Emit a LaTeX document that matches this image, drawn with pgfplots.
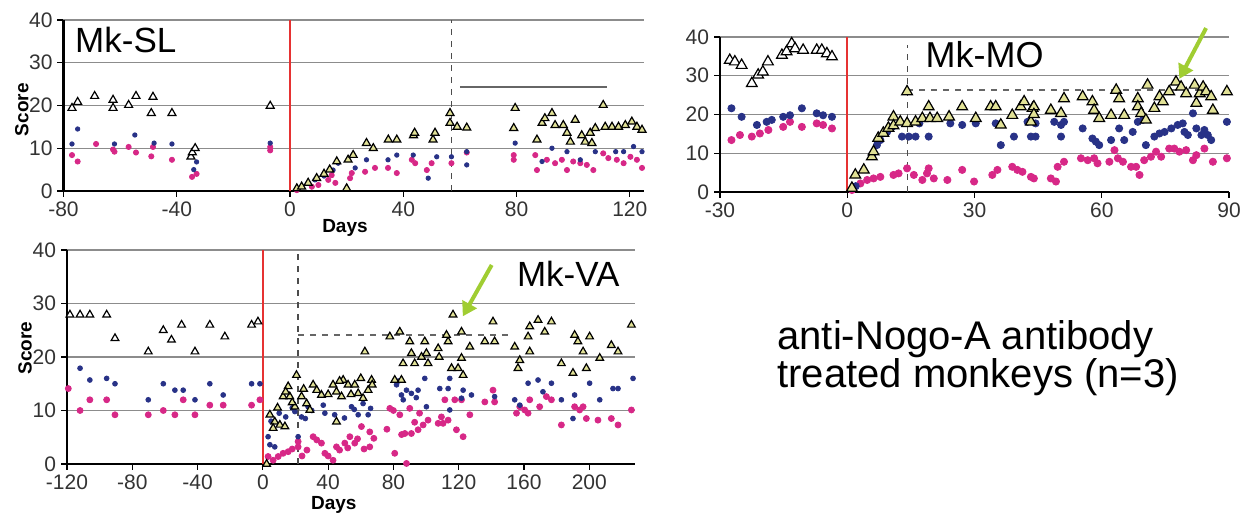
\documentclass[border=0pt]{standalone}
\usepackage{pgfplots}
\pgfplotsset{compat=1.18}
\usepackage{fontspec}
\setmainfont{Liberation Sans}
\usetikzlibrary{arrows.meta}
\definecolor{mblue}{RGB}{40,50,135}
\definecolor{mmag}{RGB}{215,40,135}
\definecolor{tfill}{RGB}{225,225,150}
\definecolor{agreen}{RGB}{160,205,50}
\definecolor{mred}{RGB}{230,50,50}
\pgfplotsset{
 panel/.style={scale only axis, axis x line=bottom, axis y line=left,
  axis line style={-, black, line width=1.2pt},
  ymin=0, ymax=40, ytick={0,10,20,30,40}, ymajorgrids,
  grid style={black!45, line width=0.6pt},
  tick style={black, line width=0.6pt}, tick align=outside, major tick length=3pt,
  clip=false,
  /pgf/number format/assume math mode=true,
  ticklabel style={font=\fontsize{10.5}{12}\selectfont, text=black!80},
  xticklabel style={yshift=1pt}, yticklabel style={xshift=1pt}},
 tripre/.style={only marks, mark=triangle*, mark size=#1, mark options={draw=black, fill=white, line width=0.6pt}},
 tripost/.style={only marks, mark=triangle*, mark size=#1, mark options={draw=black, fill=tfill, line width=0.6pt}},
 bl/.style={only marks, mark=*, mark size=#1, mark options={draw=mblue, fill=mblue}},
 mg/.style={only marks, mark=*, mark size=#1, mark options={draw=mmag, fill=mmag}},
}
\begin{document}
\begin{tikzpicture}
\useasboundingbox (0,0) rectangle (627pt,259pt);
% ---------------- Mk-SL
\begin{axis}[panel, at={(31.75pt,163.5pt)}, anchor=south west, width=290.25pt, height=85.5pt,
  xmin=-80, xmax=125, xtick={-80,-40,0,40,80,120}]
\draw[mred, line width=0.9pt] (axis cs:0,0) -- (axis cs:0,40);
\draw[dashed, black!70, line width=0.6pt] (axis cs:57,0) -- (axis cs:57,40);
\draw[black!60, line width=0.8pt] (axis cs:60,24.3) -- (axis cs:112,24.3);
\addplot[mg=1.3pt] coordinates {(-77,8.4)(-75,6.9)(-68.5,11)(-62.5,9.7)(-62,9.2)(-57,10.3)(-54.4,9)(-49,8.1)(-48.4,10.3)(-41.7,7.3)(-34.6,3.3)(-33,4)(-7,9.5)(-7,10.3)
(2.4,0.2)(7.7,1)(10,1.4)(13.5,2.6)(16,1.9)(14.7,3.7)(21.2,3)(21.8,4.2)(26.5,4.5)(30,5.4)(34.6,5.4)(37.7,4.2)(43,7.3)(44.2,6.5)(48.3,4.9)(50,6.5)(57,6.5)(62.4,9)(79,8.4)(79,7.3)(86.6,8.4)(87.2,4.9)(90.7,7.3)(93.6,6.5)(96,7.3)(97.8,4.9)(100,6.9)(102.5,6.5)(104.8,6.1)(107.1,4.9)(110.6,8.8)(112.4,7.7)(115.4,7.3)(117.8,6.5)(120.2,8)(122.5,7.3)(124.3,5.4)};
\addplot[bl=1.1pt] coordinates {(-77,11)(-75,14.5)(-62,11)(-54.8,13.1)(-48,11.2)(-41.7,11)(-33,6.8)(-34,5)(-7,11.2)
(8.8,2.6)(12,3.5)(15.2,4.9)(17,6.5)(23,5.4)(27,7.3)(34.6,7.3)(37.7,8.4)(43.5,8.4)(48.8,3)(51.8,8)(57,8)(62.4,9.2)(62.4,6.1)(79.5,11.2)(89,6.9)(92.5,10)(97.8,9.2)(102.5,7.3)(107.8,9.2)(115,9.2)(117.8,9.2)(121.3,10.4)(124.3,9.2)};
\addplot[tripre=2.3pt] coordinates {(-77,19.4)(-75,20.8)(-69,22.2)(-62.5,21.3)(-62.5,19.4)(-57,20.1)(-54.4,22.2)(-49,18.2)(-48.4,22)(-41.7,18.2)(-35,8)(-34.5,9)(-33.5,10)(-7,19.9)};
\addplot[tripost=2.3pt] coordinates {(2.4,0.6)(4.1,1)(6.4,1.9)(9.4,3)(12,4)(14,5)(16.5,6.9)(20,0.6)(20.5,7.3)(22.3,8.4)(27,11.2)(29.4,10)(34.7,12)(37.7,12)(43.6,13)(44,13.6)(50.5,12)(51.2,13.6)(56.5,18.2)(56.5,15.9)(59,15)(62.4,14.8)(79.5,19.4)(79,14.7)(87.2,12)(89,15.9)(90,17)(92.5,18.2)(93.6,15.4)(96.5,15.4)(97.8,13.6)(100.7,16.6)(99,11.5)(103,13)(104.2,11.5)(106,13.6)(106.6,11.2)(107.8,14.7)(110.6,20.1)(111.3,15)(113.7,15)(116,15)(118.4,15.4)(120.7,16.2)(122.5,15)(124.3,14.3)};
\node[anchor=base west, inner sep=0pt, font=\fontsize{17.5}{19}\selectfont] at (axis cs:-76,32.5) {Mk-SL};
\node[rotate=90, font=\bfseries\fontsize{9.5}{11}\selectfont] at (axis cs:-94.7,19) {Score};
\node[font=\bfseries\fontsize{9.5}{11}\selectfont] at (axis cs:19.4,-8.7) {Days};
\end{axis}
% ---------------- Mk-MO
\begin{axis}[panel, at={(360pt,163pt)}, anchor=south west, width=254.5pt, height=77.5pt,
  xmin=-30, xmax=90, xtick={-30,0,30,60,90}]
\draw[mred, line width=0.9pt] (axis cs:0,0) -- (axis cs:0,40);
\draw[dashed, black!70, line width=0.6pt] (axis cs:14.2,0) -- (axis cs:14.2,38);
\draw[dashed, black!60, line width=0.6pt] (axis cs:14.2,26.3) -- (axis cs:83,26.3);
\addplot[mg=1.8pt] coordinates {(-27.3,13.4)(-25.3,14.7)(-22.5,14.3)(-20.6,15.1)(-18.6,16)(-15.1,16.8)(-13.5,18.1)(-10.7,16.8)(-7.2,17.7)(-5.7,17.3)(-3.6,16.4)
(1.1,0.5)(3.1,2.2)(4.7,3.1)(6.2,3.5)(7.8,3.9)(10.9,4.4)(12.1,4.8)(14.1,6.1)(15.7,4.4)(17.7,3.1)(18.8,4.8)(19.2,6.1)(20.4,3.5)(23.6,3.1)(27.1,5.7)(29.9,2.7)(34.2,4.4)(35.4,5.7)(38.9,6.5)(40.1,5.7)(41.3,5.2)(43.3,3.9)(44,3.5)
(48,3.5)(49.2,2.7)(49.6,6.5)(51.1,7.8)(55.1,8.7)(56.7,8.2)(58.2,8.7)(59,7.4)(61.8,7.8)(63,10.8)(63.8,8.7)(65,7.8)(66.9,6.5)(68.1,6.5)(68.9,4.4)(70,8.2)(71.6,9.1)(72.8,10.4)(74,9.1)(75.9,11.2)(77.1,11.2)(78.3,10.4)(79.9,10.8)(81.5,8.2)(82.3,9.5)(84.2,11.2)(86.2,7.8)(89.5,8.7)};
\addplot[bl=1.8pt] coordinates {(-27.3,21.6)(-24.9,19.4)(-21.3,17.3)(-19,18.1)(-17.8,18.6)(-15.1,19.4)(-13.5,19.8)(-10.7,21.6)(-7.2,20.3)(-5.7,19.8)(-3.6,19.4)
(2,1.5)(5.8,9.5)(7,12.1)(7.8,13.4)(9.4,15.5)(10.6,16.8)(12.9,14.3)(14.5,14.3)(16.1,14.3)(19.2,14.3)(17,17.7)(24.3,17.7)(27.1,17.3)(30.3,17.7)(35,17.7)(36.2,12.1)(39.3,14.3)(43.3,14.3)(42.5,18.1)
(44.4,17.7)(44.4,14.3)(48.8,18.1)(50.4,17.3)(51.1,18.1)(50.4,14.3)(55.5,16.4)(57.8,13.8)(58.6,13)(59.4,12.1)(62.2,13.4)(64.1,16.4)(65.3,13.4)(67.3,15.5)(68.5,18.1)(69.7,18.6)(70.4,12.1)(72.4,14.3)(73.6,15.1)(74.8,15.5)(76.4,16.4)(77.9,17.3)(79.1,17.7)(79.5,15.5)(80.3,14.7)(81.5,20.3)(82.3,16.4)(83.5,14.7)(84.2,16)(85,14.7)(85.8,13.4)(89.5,18.1)};
\addplot[tripre=3.1pt] coordinates {(-27.7,34)(-26.5,33.6)(-24.9,32.7)(-22.5,28)(-21,30.2)(-19.9,31)(-18.7,33.6)(-15.4,35.3)(-14.3,36.2)(-13.1,38.3)(-12.3,37)(-10.4,36.6)(-7.2,36.6)(-6,36.6)(-4.8,35.7)(-3.6,34.9)};
\addplot[tripost=3.1pt] coordinates {(1.1,1)(1.9,4.4)(3.9,5.7)(5.8,9.1)(6.2,10.4)(7.3,13.9)(8.5,15.2)(9.7,16.5)(10.9,19.4)(10.9,17.1)(12.5,18.1)(14.1,25.9)(14.1,17.7)(16.1,18.1)(17.7,19)(19.2,22)(19.5,19)(21.2,19)(24,19.4)(27.1,22)(30.3,19)(33.8,22)(35,22)(36.2,17.3)(38.9,19.8)(40.9,22)(41.7,23.3)(43.7,21.6)(43.3,18.1)
(44,22)(44,20)(48,21.1)(50.4,20.3)(51.1,24.1)(55.5,24.6)(57.8,23.3)(58.2,21.1)(59.4,19)(62.2,19.8)(63.4,26.3)(64.1,24.1)(65.3,19.8)(68.5,24.1)(68.5,22)(69.3,20.3)(70.4,18.6)(70.8,27.6)(72.4,21.6)(73.6,24.6)(74.4,23.3)(75.9,25.9)(77.5,28.4)(78.7,27.1)(79.9,25.4)(81.9,27.6)(83.1,25.4)(83.9,27.1)(84.6,25.9)(85.8,24.6)(82.3,22.9)(86.2,21.1)(89.5,25.9)};
\draw[-{Triangle[width=8pt,length=7pt]}, line width=2pt, agreen] (axis cs:84.6,42.3) -- (axis cs:78.3,29.2);
\node[anchor=base west, inner sep=0pt, font=\fontsize{18}{20}\selectfont] at (axis cs:18.4,32) {Mk-MO};
\end{axis}
% ---------------- Mk-VA
\begin{axis}[panel, at={(33.5pt,27pt)}, anchor=south west, width=284pt, height=107pt,
  xmin=-120, xmax=228, xtick={-120,-80,-40,0,40,80,120,160,200}]
\draw[mred, line width=1.3pt] (axis cs:0,0) -- (axis cs:0,40);
\draw[dashed, black!70, line width=0.6pt] (axis cs:21.5,0) -- (axis cs:21.5,40);
\draw[dashed, black!60, line width=0.6pt] (axis cs:21.5,24.1) -- (axis cs:151,24.1);
\addplot[mg=1.5pt] coordinates {(-119.2,14.1)(-112,10)(-106,12)(-95.7,12)(-90.6,9.2)(-70.2,9.2)(-61,10)(-53.9,9.2)(-48.8,12)(-41.6,9.2)(-32.5,11)(-24.3,11)(-6.9,11)(-1.8,12)
(3.2,1.4)(6.3,0.7)(9.4,1.4)(12.4,2)(15.5,2.3)(21.6,3.2)(21.6,4.2)(30.8,5.1)(35.9,3.9)(38,2)(43,0.7)(45.1,3.2)(50.2,3.9)(53.3,5.1)(56.3,3.9)(60.4,7)(65.5,6)(65.5,3.2)(77.8,10.4)(83.9,9.2)(90,10.4)(80.8,2)(88,0.1)(87,5.7)(91,5.7)(95.1,6.4)(98.2,7.3)(101.2,8.2)(107.4,7.6)(109.4,8.8)
(18,2.8)(24,1.5)(27,2.6)(33,4.5)(40,1.5)(47,2.6)(52,3)(58,4.7)(62,2.8)(68,4.8)(76,6.5)(80,10)(85,5.5)(93,7.8)(96,9.5)
(111.5,12)(117.6,12)(121.7,12)(113.5,8.2)(118.6,6.4)(122.7,5.1)(110.4,7.6)(126.8,9.2)(136,11.6)(141,13.8)(142,11.6)(155.4,9.5)(157.4,10.7)(160.4,10.1)(163.5,12)(162.5,9.5)(169.6,10.7)(173.7,12.6)(176.8,12)(182.9,7.3)(191,10.7)(194.1,10.1)(196.2,10.7)(198.2,8.5)(205.3,8.2)(213.5,8.5)(217.6,7.3)(225.8,10.1)};
\addplot[bl=1.2pt] coordinates {(-112,17.9)(-106,15.7)(-95.7,16)(-90.6,15)(-70.2,12)(-61,15)(-53.9,13.8)(-48.8,13.8)(-41.6,12)(-32.5,15)(-24.3,12.9)(-6.9,15)(-1.8,15)
(4.3,3.6)(7.3,3.2)(3.2,5.1)(21.6,5.1)(19.6,9.8)(23.7,8.8)(27.7,10.7)(38,9.5)(37,11)(54.3,10.7)(58.4,9.2)(64.5,9.2)(61.4,11.3)(81.9,14.8)(84.9,12.9)(88,13.8)(91,13.2)(95.1,13.8)(99.2,16)(100.2,10.7)(108.4,14.1)
(5,8)(10,9.5)(14,8.8)(18,10.5)(26,8.5)(30,10)(44,9.2)(50,8.6)(56,10.2)(66,10.4)(83,15.5)(86,12)(94,12.4)
(114.5,16)(113.5,14.1)(122.7,13.8)(127.8,12.9)(121.7,12.3)(114.5,10.1)(142,12.6)(154.3,12)(162.5,15.1)(168.6,15.7)(176.8,15.1)(171.6,13.5)(182.9,12)(191,12.9)(200.2,15.1)(206.4,12)(214.5,14.1)(217.6,14.1)(226.8,16)(190,8.5)(157.4,11)};
\addplot[tripre=2.2pt] coordinates {(-118.2,27.9)(-112,27.9)(-106,27.9)(-95.7,27.9)(-90.6,23.5)(-70.2,21)(-61,25)(-56,23.2)(-49.8,26)(-41.6,21)(-32.5,26)(-23.3,23.8)(-6.9,26)(-3,26.6)};
\addplot[tripost=2.2pt] coordinates {(2.3,0)(4.3,9.2)(7.3,7.9)(10.4,7.3)(13.5,7)(6.3,6.7)(20.6,16.6)(15.5,14.5)(12.4,12.6)(16.5,12.6)(23.7,12.6)(19.6,10.7)(26.8,11.3)(30.8,14.8)(35.9,12.9)(28.8,10.1)(43,14.8)(45.1,13.5)(49.2,15.7)(48.2,12.6)(52.2,14.8)(56.3,14.8)(58.4,13.2)(61.4,12.3)(66.6,15.7)(64.5,13.8)(45.1,7.9)(62.5,21)(77.8,23.8)(83.9,24.7)(80.8,15.7)(84.9,15.7)(90,22.9)(99.2,22.9)(91,20.7)(85.9,18.8)(93,18.8)(97.2,20)(101.2,18.8)(100.2,20.7)(107.4,21.6)(108,20)
(9,10.5)(14,13.5)(18,11.5)(25,14)(33,13.8)(40,13)(47,15.5)(54,13)(60,16)(67,14.8)
(116.5,27.9)(121.7,24.7)(113.5,22.9)(112.5,24.1)(126.8,21.9)(121.7,19.8)(115.6,17.9)(119.6,17.9)(122.7,16.6)(136,22.9)(142,22.9)(141,26.6)(154.3,21.9)(157.4,19.4)(156.3,17.9)(163.5,21)(162.5,23.8)(163.5,25.7)(168.6,26.9)(172.7,24.7)(176.8,26.6)(182.9,18.8)(190,17)(191,24.1)(193,22.9)(200.2,23.8)(196.2,21)(198.2,17.9)(206.4,19.8)(213.5,22.2)(217.6,21)(225.8,26)};
\draw[-{Triangle[width=8pt,length=7pt]}, line width=2pt, agreen] (axis cs:140.2,37.2) -- (axis cs:122.5,27.6);
\node[anchor=base west, inner sep=0pt, font=\fontsize{17.5}{19}\selectfont] at (axis cs:155.5,33.1) {Mk-VA};
\node[rotate=90, font=\bfseries\fontsize{9.5}{11}\selectfont] at (axis cs:-145.7,21.7) {Score};
\node[font=\bfseries\fontsize{9.5}{11}\selectfont] at (axis cs:43.5,-7.7) {Days};
\end{axis}
\node[anchor=base west, inner sep=0pt, font=\fontsize{20}{22}\selectfont] at (388.5pt,84pt) {anti-Nogo-A antibody};
\node[anchor=base west, inner sep=0pt, font=\fontsize{20}{22}\selectfont] at (388.5pt,65pt) {treated monkeys (n=3)};
\end{tikzpicture}
\end{document}
